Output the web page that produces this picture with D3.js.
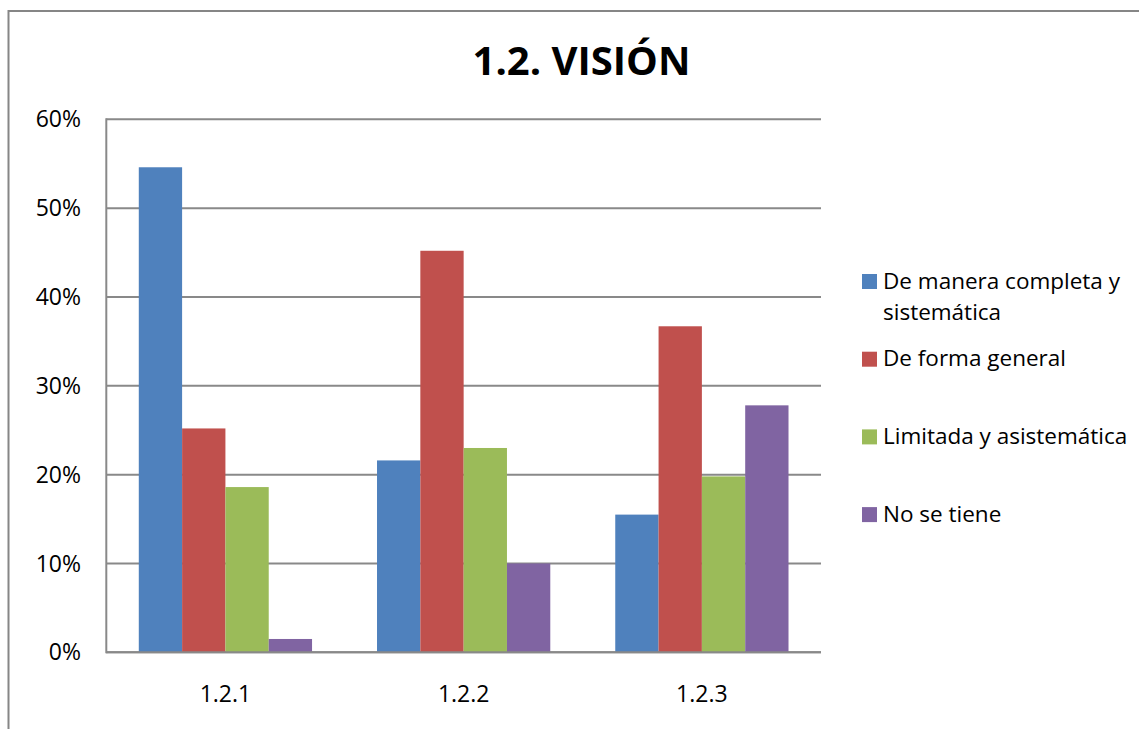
<!DOCTYPE html>
<head>
    <meta charset="utf-8">
    <style>
        body {
            margin: 0;
            padding: 0;
            background: #fff;
        }
        svg {
            display: block;
            font-family: "Open Sans", sans-serif;
        }
        .grid line {
            stroke: #898989;
            stroke-width: 2;
        }
        .tick-label, .cat-label {
            font-size: 23px;
            fill: #000;
        }
        .legend text {
            font-size: 22.5px;
            fill: #000;
        }
        .title {
            font-size: 40px;
            font-weight: bold;
            text-anchor: middle;
        }
    </style>
    <script src="https://d3js.org/d3.v7.min.js"></script>
</head>
<body>
    <svg width="1139" height="729"></svg>
    <script>
        // data
        var categories = ["1.2.1", "1.2.2", "1.2.3"];
        var series = ["De manera completa y sistemática", "De forma general", "Limitada y asistemática", "No se tiene"];
        var completa = [0.546, 0.216, 0.155];
        var general = [0.252, 0.452, 0.367];
        var limitada = [0.186, 0.230, 0.198];
        var noTiene = [0.015, 0.100, 0.278];
        var yTicks = [0, 0.1, 0.2, 0.3, 0.4, 0.5, 0.6];
        var colors = ["#4F81BD", "#C0504D", "#9BBB59", "#8064A2"];
        var values = [completa, general, limitada, noTiene];

        var svg = d3.select("svg");

        // outer frame (extends past the right/bottom of the picture)
        svg.append("rect")
            .attr("x", 8.5).attr("y", 11)
            .attr("width", 1200).attr("height", 800)
            .attr("fill", "none")
            .attr("stroke", "#868686")
            .attr("stroke-width", 2);

        svg.append("text")
            .attr("class", "title")
            .attr("x", 581.5)
            .attr("y", 75)
            .text("1.2. VISIÓN");

        // plot area
        var plotLeft = 106.3, plotRight = 821, plotTop = 119.3, plotBottom = 652.3;

        var y = d3.scaleLinear().domain([0, 0.6]).range([plotBottom, plotTop]);
        var x0 = d3.scaleBand().domain(categories).range([plotLeft, plotRight]);
        var x1 = d3.scaleBand().domain(series).range([0, x0.bandwidth()]).paddingOuter(0.75);

        // gridlines
        svg.append("g").attr("class", "grid")
            .selectAll("line")
            .data(yTicks)
            .enter().append("line")
                .attr("x1", plotLeft).attr("x2", plotRight)
                .attr("y1", function (d) { return y(d); })
                .attr("y2", function (d) { return y(d); });

        // y labels
        svg.append("g")
            .selectAll("text")
            .data(yTicks)
            .enter().append("text")
                .attr("class", "tick-label")
                .attr("x", 81)
                .attr("y", function (d) { return y(d); })
                .attr("dy", "0.35em")
                .attr("text-anchor", "end")
                .text(d3.format(".0%"));

        // bars
        var groups = svg.append("g")
            .selectAll("g")
            .data(series)
            .enter().append("g")
                .attr("fill", function (d, i) { return colors[i]; });

        groups.selectAll("rect")
            .data(function (s, i) {
                return categories.map(function (c, j) { return {cat: c, s: s, v: values[i][j]}; });
            })
            .enter().append("rect")
                .attr("x", function (d) { return x0(d.cat) + x1(d.s); })
                .attr("width", x1.bandwidth())
                .attr("y", function (d) { return y(d.v); })
                .attr("height", function (d) { return y(0) - y(d.v); });

        // axis lines
        svg.append("line")
            .attr("x1", plotLeft).attr("x2", plotLeft)
            .attr("y1", plotTop - 1).attr("y2", plotBottom + 1)
            .attr("stroke", "#898989").attr("stroke-width", 2);
        svg.append("line")
            .attr("x1", plotLeft).attr("x2", plotRight)
            .attr("y1", plotBottom).attr("y2", plotBottom)
            .attr("stroke", "#898989").attr("stroke-width", 2);

        // category labels
        svg.append("g")
            .selectAll("text")
            .data(categories)
            .enter().append("text")
                .attr("class", "cat-label")
                .attr("x", function (d) { return x0(d) + x0.bandwidth() / 2; })
                .attr("y", 702)
                .attr("text-anchor", "middle")
                .text(function (d) { return d; });

        // legend
        var legend = svg.append("g").attr("class", "legend")
            .selectAll("g")
            .data(series)
            .enter().append("g")
                .attr("transform", function (d, i) { return "translate(862," + (274 + i * 77.7) + ")"; });

        legend.append("rect")
            .attr("width", 15).attr("height", 15)
            .attr("fill", function (d, i) { return colors[i]; });

        legend.append("text")
            .attr("x", 21)
            .attr("y", 14.5)
            .each(function (d) {
                var t = d3.select(this), words = d.split(" "), line = [];
                var tspan = t.append("tspan").attr("x", 21);
                words.forEach(function (w) {
                    line.push(w);
                    tspan.text(line.join(" "));
                    if (tspan.node().getComputedTextLength() > 250 && line.length > 1) {
                        line.pop();
                        tspan.text(line.join(" "));
                        line = [w];
                        tspan = t.append("tspan").attr("x", 21).attr("dy", 31.7).text(w);
                    }
                });
            });
    </script>
</body>
</html>
